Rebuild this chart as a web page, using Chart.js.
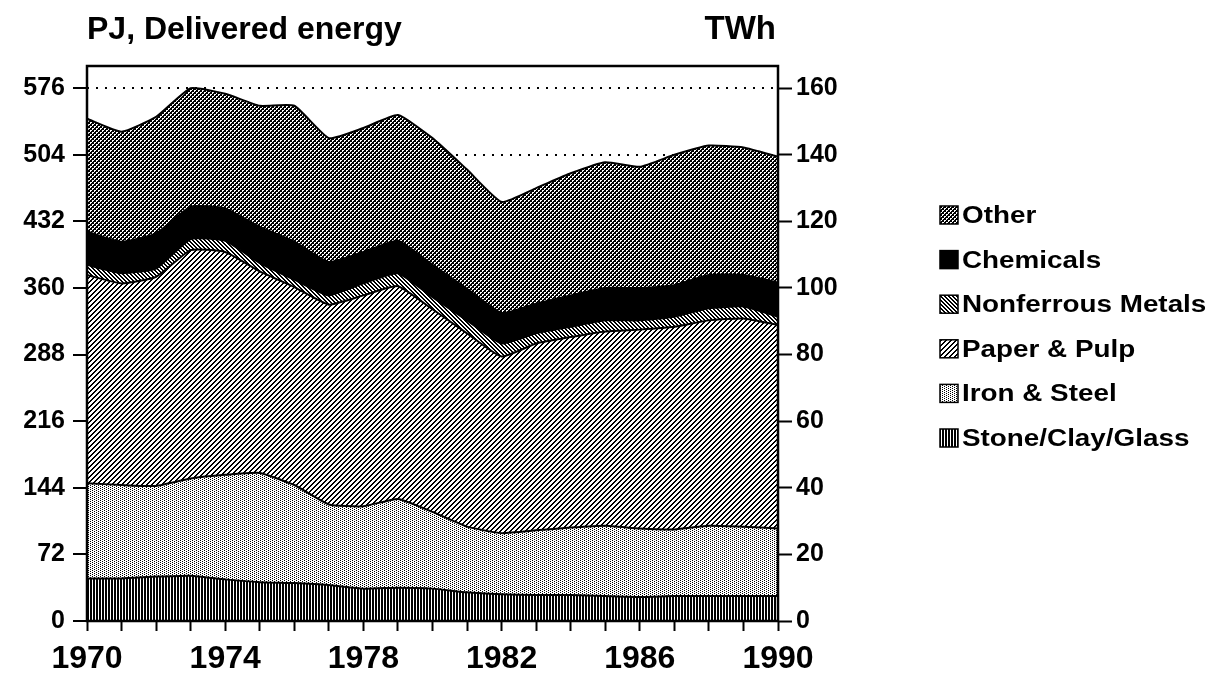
<!DOCTYPE html>
<html>
<head>
<meta charset="utf-8">
<script src="https://cdn.jsdelivr.net/npm/chart.js@4.4.1/dist/chart.umd.min.js"></script>
<style>
  body { margin: 0; background: #fff; }
</style>
</head>
<body>
<canvas id="myChart" width="1223" height="674"></canvas>
<script>
// years on the x axis
const years = ['1970','1971','1972','1973','1974','1975','1976','1977','1978','1979','1980',
               '1981','1982','1983','1984','1985','1986','1987','1988','1989','1990'];

// PJ per sector (stacked bottom -> top)
const stoneClayGlass   = [46,46,48,49,45,42,41,39,35,36,35,31,29,28,28,27,26,27,27,27,27];
const ironSteel        = [103,101,98,105,113,118,106,87,89,96,83,71,66,70,73,76,74,72,76,75,73];
const paperPulp        = [225,218,226,247,241,218,214,216,228,230,219,209,191,202,206,210,215,219,222,225,220];
const nonferrousMetals = [11,11,9,12,12,9,8,10,13,14,13,14,14,11,11,12,10,11,13,13,9];
const chemicals        = [36,34,38,35,35,39,41,36,34,35,35,34,33,32,34,35,35,34,36,34,37];
const other            = [122,119,126,128,124,131,147,134,134,136,137,129,120,125,132,136,131,141,140,138,136];

const pjTicks  = [0,72,144,216,288,360,432,504,576];
const twhTicks = [0,20,40,60,80,100,120,140,160];

const FONT = '"Liberation Sans", Arial, Helvetica, sans-serif';

// little bitmap patterns, 1 = black pixel
function makePattern(w, h, isBlack) {
  const c = document.createElement('canvas');
  c.width = w; c.height = h;
  const g = c.getContext('2d');
  g.fillStyle = '#fff';
  g.fillRect(0, 0, w, h);
  g.fillStyle = '#000';
  for (let y = 0; y < h; y++) {
    for (let x = 0; x < w; x++) {
      if (isBlack(x, y)) g.fillRect(x, y, 1, 1);
    }
  }
  return document.getElementById('myChart').getContext('2d').createPattern(c, 'repeat');
}

const patStone  = makePattern(3, 1, (x) => x < 2);
const patIron   = makePattern(4, 2, (x, y) => (y === 0 && x === 0) || (y === 1 && x === 2));
const patPaper  = makePattern(5, 5, (x, y) => (x + y) % 5 < 2);
const patNonfer = makePattern(4, 4, (x, y) => ((x - y + 8) % 4) < 2);
const patOther  = makePattern(4, 4, (x, y) => !((x < 2 && y < 2 && !(x === 1 && y === 1)) ||
                                                  (x >= 2 && y >= 2 && !(x === 3 && y === 3))));

function area(label, data, bg, fill) {
  return {
    label: label,
    data: data,
    backgroundColor: bg,
    borderColor: '#000',
    borderWidth: 2,
    pointRadius: 0,
    tension: 0.15,
    fill: fill
  };
}

// titles, legend and the plot frame
const decorations = {
  id: 'decorations',
  afterDatasetsDraw(chart) {
    const ctx = chart.ctx;
    const a = chart.chartArea;
    ctx.save();
    ctx.strokeStyle = '#000';
    ctx.lineWidth = 2.5;
    ctx.strokeRect(a.left, a.top, a.right - a.left, a.bottom - a.top);
    ctx.restore();
  },
  afterDraw(chart) {
    const ctx = chart.ctx;
    ctx.save();
    ctx.fillStyle = '#000';
    ctx.textBaseline = 'alphabetic';
    ctx.font = 'bold 32px ' + FONT;
    ctx.textAlign = 'left';
    ctx.fillText('PJ, Delivered energy', 87, 39);
    ctx.font = 'bold 33px ' + FONT;
    ctx.textAlign = 'right';
    ctx.fillText('TWh', 776, 39);

    const sets = chart.data.datasets;
    ctx.textAlign = 'left';
    ctx.font = 'bold 23px ' + FONT;
    for (let k = 0; k < sets.length; k++) {
      const ds = sets[sets.length - 1 - k];
      const cy = 215 + k * 44.6;
      ctx.fillStyle = ds.backgroundColor;
      ctx.fillRect(940, cy - 9, 18, 18);
      ctx.strokeStyle = '#000';
      ctx.lineWidth = 1.5;
      ctx.strokeRect(940, cy - 9, 18, 18);
      ctx.fillStyle = '#000';
      ctx.save();
      ctx.translate(962, cy + 8);
      ctx.scale(1.21, 1);
      ctx.fillText(ds.label, 0, 0);
      ctx.restore();
    }
    ctx.restore();
  }
};

Chart.defaults.color = '#000';
Chart.defaults.font.family = FONT;

const ctx = document.getElementById('myChart').getContext('2d');
const chart = new Chart(ctx, {
  type: 'line',
  data: {
    labels: years,
    datasets: [
      area('Stone/Clay/Glass', stoneClayGlass, patStone, 'origin'),
      area('Iron & Steel', ironSteel, patIron, '-1'),
      area('Paper & Pulp', paperPulp, patPaper, '-1'),
      area('Nonferrous Metals', nonferrousMetals, patNonfer, '-1'),
      area('Chemicals', chemicals, '#000', '-1'),
      area('Other', other, patOther, '-1')
    ]
  },
  options: {
    responsive: false,
    animation: false,
    devicePixelRatio: 1,
    layout: { padding: { top: 66, left: 0, right: 0, bottom: 0 } },
    plugins: {
      legend: { display: false },
      tooltip: { enabled: false }
    },
    scales: {
      x: {
        afterFit: (scale) => { scale.height = 53; },
        grid: { drawOnChartArea: false, tickLength: 10, tickWidth: 2, tickColor: '#000' },
        border: { display: false },
        ticks: {
          autoSkip: false,
          maxRotation: 0,
          padding: 9,
          font: { size: 32, weight: 'bold' },
          callback: function (val, idx) { return idx % 4 === 0 ? years[idx] : ''; }
        }
      },
      y: {
        position: 'left',
        stacked: true,
        min: 0,
        max: 600,
        afterFit: (scale) => { scale.width = 87; },
        afterBuildTicks: (scale) => { scale.ticks = pjTicks.map(v => ({ value: v })); },
        grid: { color: '#000', lineWidth: 2, tickLength: 14, tickWidth: 2, tickColor: '#000', tickBorderDash: [] },
        border: { display: false, dash: [2, 7] },
        ticks: { padding: 8, font: { size: 25, weight: 'bold' } }
      },
      y2: {
        position: 'right',
        min: 0,
        max: 600 / 3.6,
        afterFit: (scale) => { scale.width = 445; },
        afterBuildTicks: (scale) => { scale.ticks = twhTicks.map(v => ({ value: v })); },
        grid: { drawOnChartArea: false, tickLength: 14, tickWidth: 2, tickColor: '#000' },
        border: { display: false },
        ticks: { padding: 4, font: { size: 25, weight: 'bold' } }
      }
    }
  },
  plugins: [decorations]
});
</script>
</body>
</html>
